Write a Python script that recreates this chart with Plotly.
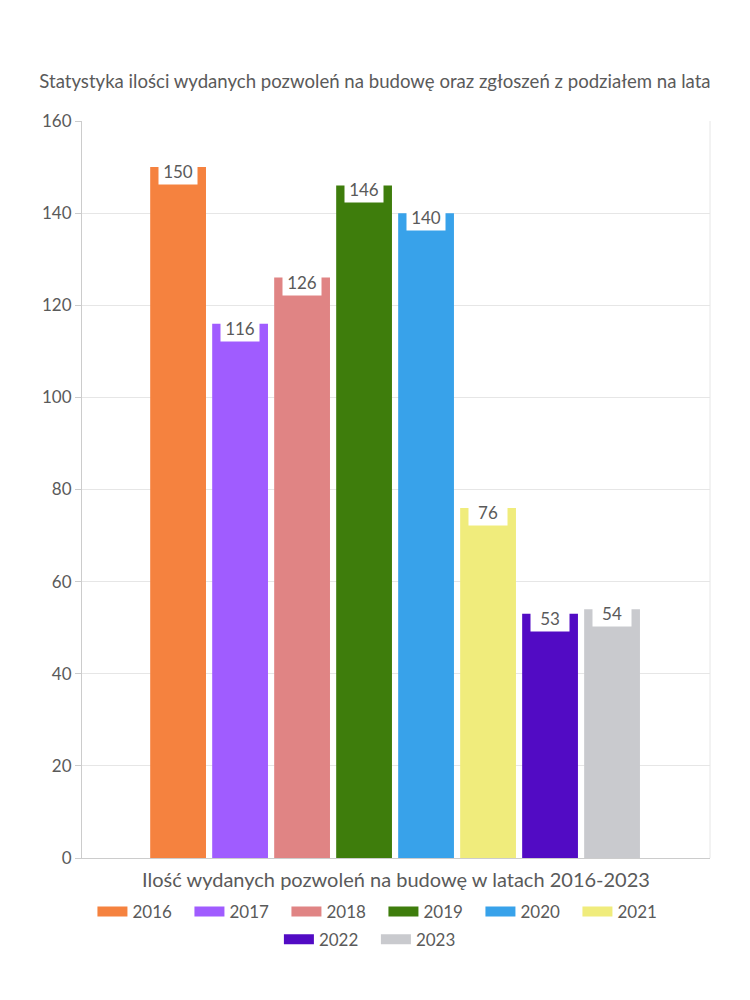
import plotly.graph_objects as go

years = ["2016", "2017", "2018", "2019", "2020", "2021", "2022", "2023"]
values = [150, 116, 126, 146, 140, 76, 53, 54]
colors = ["#F5823F", "#A05CFF", "#E08484", "#3E7D0C", "#38A2EA", "#F0EC7C", "#520BC4", "#C9CACE"]
y_ticks = [0, 20, 40, 60, 80, 100, 120, 140, 160]

title_text = "Statystyka ilości wydanych pozwoleń na budowę oraz zgłoszeń z podziałem na lata"
x_title = "Ilość wydanych pozwoleń na budowę w latach 2016-2023"

FONT = "Lato"
TXT = "#5a5a5a"

fig = go.Figure()
for i, (yr, v, c) in enumerate(zip(years, values, colors)):
    fig.add_trace(go.Bar(
        x=[yr], y=[v], name=yr,
        marker=dict(color=c, line=dict(width=0)),
        hoverinfo="x+y", showlegend=False,
    ))
    fig.add_annotation(
        x=i, y=v, text=str(v), showarrow=False,
        yanchor="top", yshift=9,
        bgcolor="white", borderpad=0,
        width=38, height=25,
        font=dict(family=FONT, size=17, color=TXT),
    )
# legend proxies (wide swatches), split into two rows
for i, (yr, c) in enumerate(zip(years, colors)):
    fig.add_trace(go.Scatter(
        x=[None], y=[None], name=yr, mode="lines",
        line=dict(color=c, width=20), hoverinfo="skip",
        legend="legend" if i < 6 else "legend2",
    ))

leg_common = dict(orientation="h", xanchor="center", yanchor="middle",
                  font=dict(family=FONT, size=17, color=TXT),
                  entrywidth=52, entrywidthmode="pixels",
                  traceorder="normal", bgcolor="rgba(0,0,0,0)")

fig.update_layout(
    width=750, height=1000,
    paper_bgcolor="white", plot_bgcolor="white",
    margin=dict(l=74, r=48, t=113, b=150, autoexpand=False),
    font=dict(family=FONT, color=TXT, size=16),
    title=dict(text=title_text, x=0.4893, xanchor="center", y=1 - 73 / 1000, yanchor="middle",
               font=dict(family=FONT, size=18.6, color=TXT)),
    bargap=0.1,
    barmode="group",
    showlegend=True,
    legend=dict(x=0.48, y=-0.0733, **leg_common),
    legend2=dict(x=0.468, y=-0.111, **leg_common),
)

fig.update_xaxes(
    type="category", categoryorder="array", categoryarray=years,
    range=[-1.55, 8.58], showticklabels=False,
    showline=True, linecolor="#cccccc", mirror=False,
    showgrid=False, ticks="",
    title=dict(text=x_title, standoff=14, font=dict(family=FONT, size=20, color=TXT)),
)
fig.update_yaxes(
    range=[0, 160], tickvals=y_ticks, showgrid=True, gridcolor="#e6e6e6",
    showline=True, linecolor="#cccccc", ticks="outside", ticklen=6, tickcolor="#cccccc",
    tickfont=dict(family=FONT, size=17, color=TXT), zeroline=False,
)
fig.add_shape(type="line", xref="paper", yref="paper", x0=1, x1=1, y0=0, y1=1,
              line=dict(color="#e6e6e6", width=1))

fig.write_html("out.html")
